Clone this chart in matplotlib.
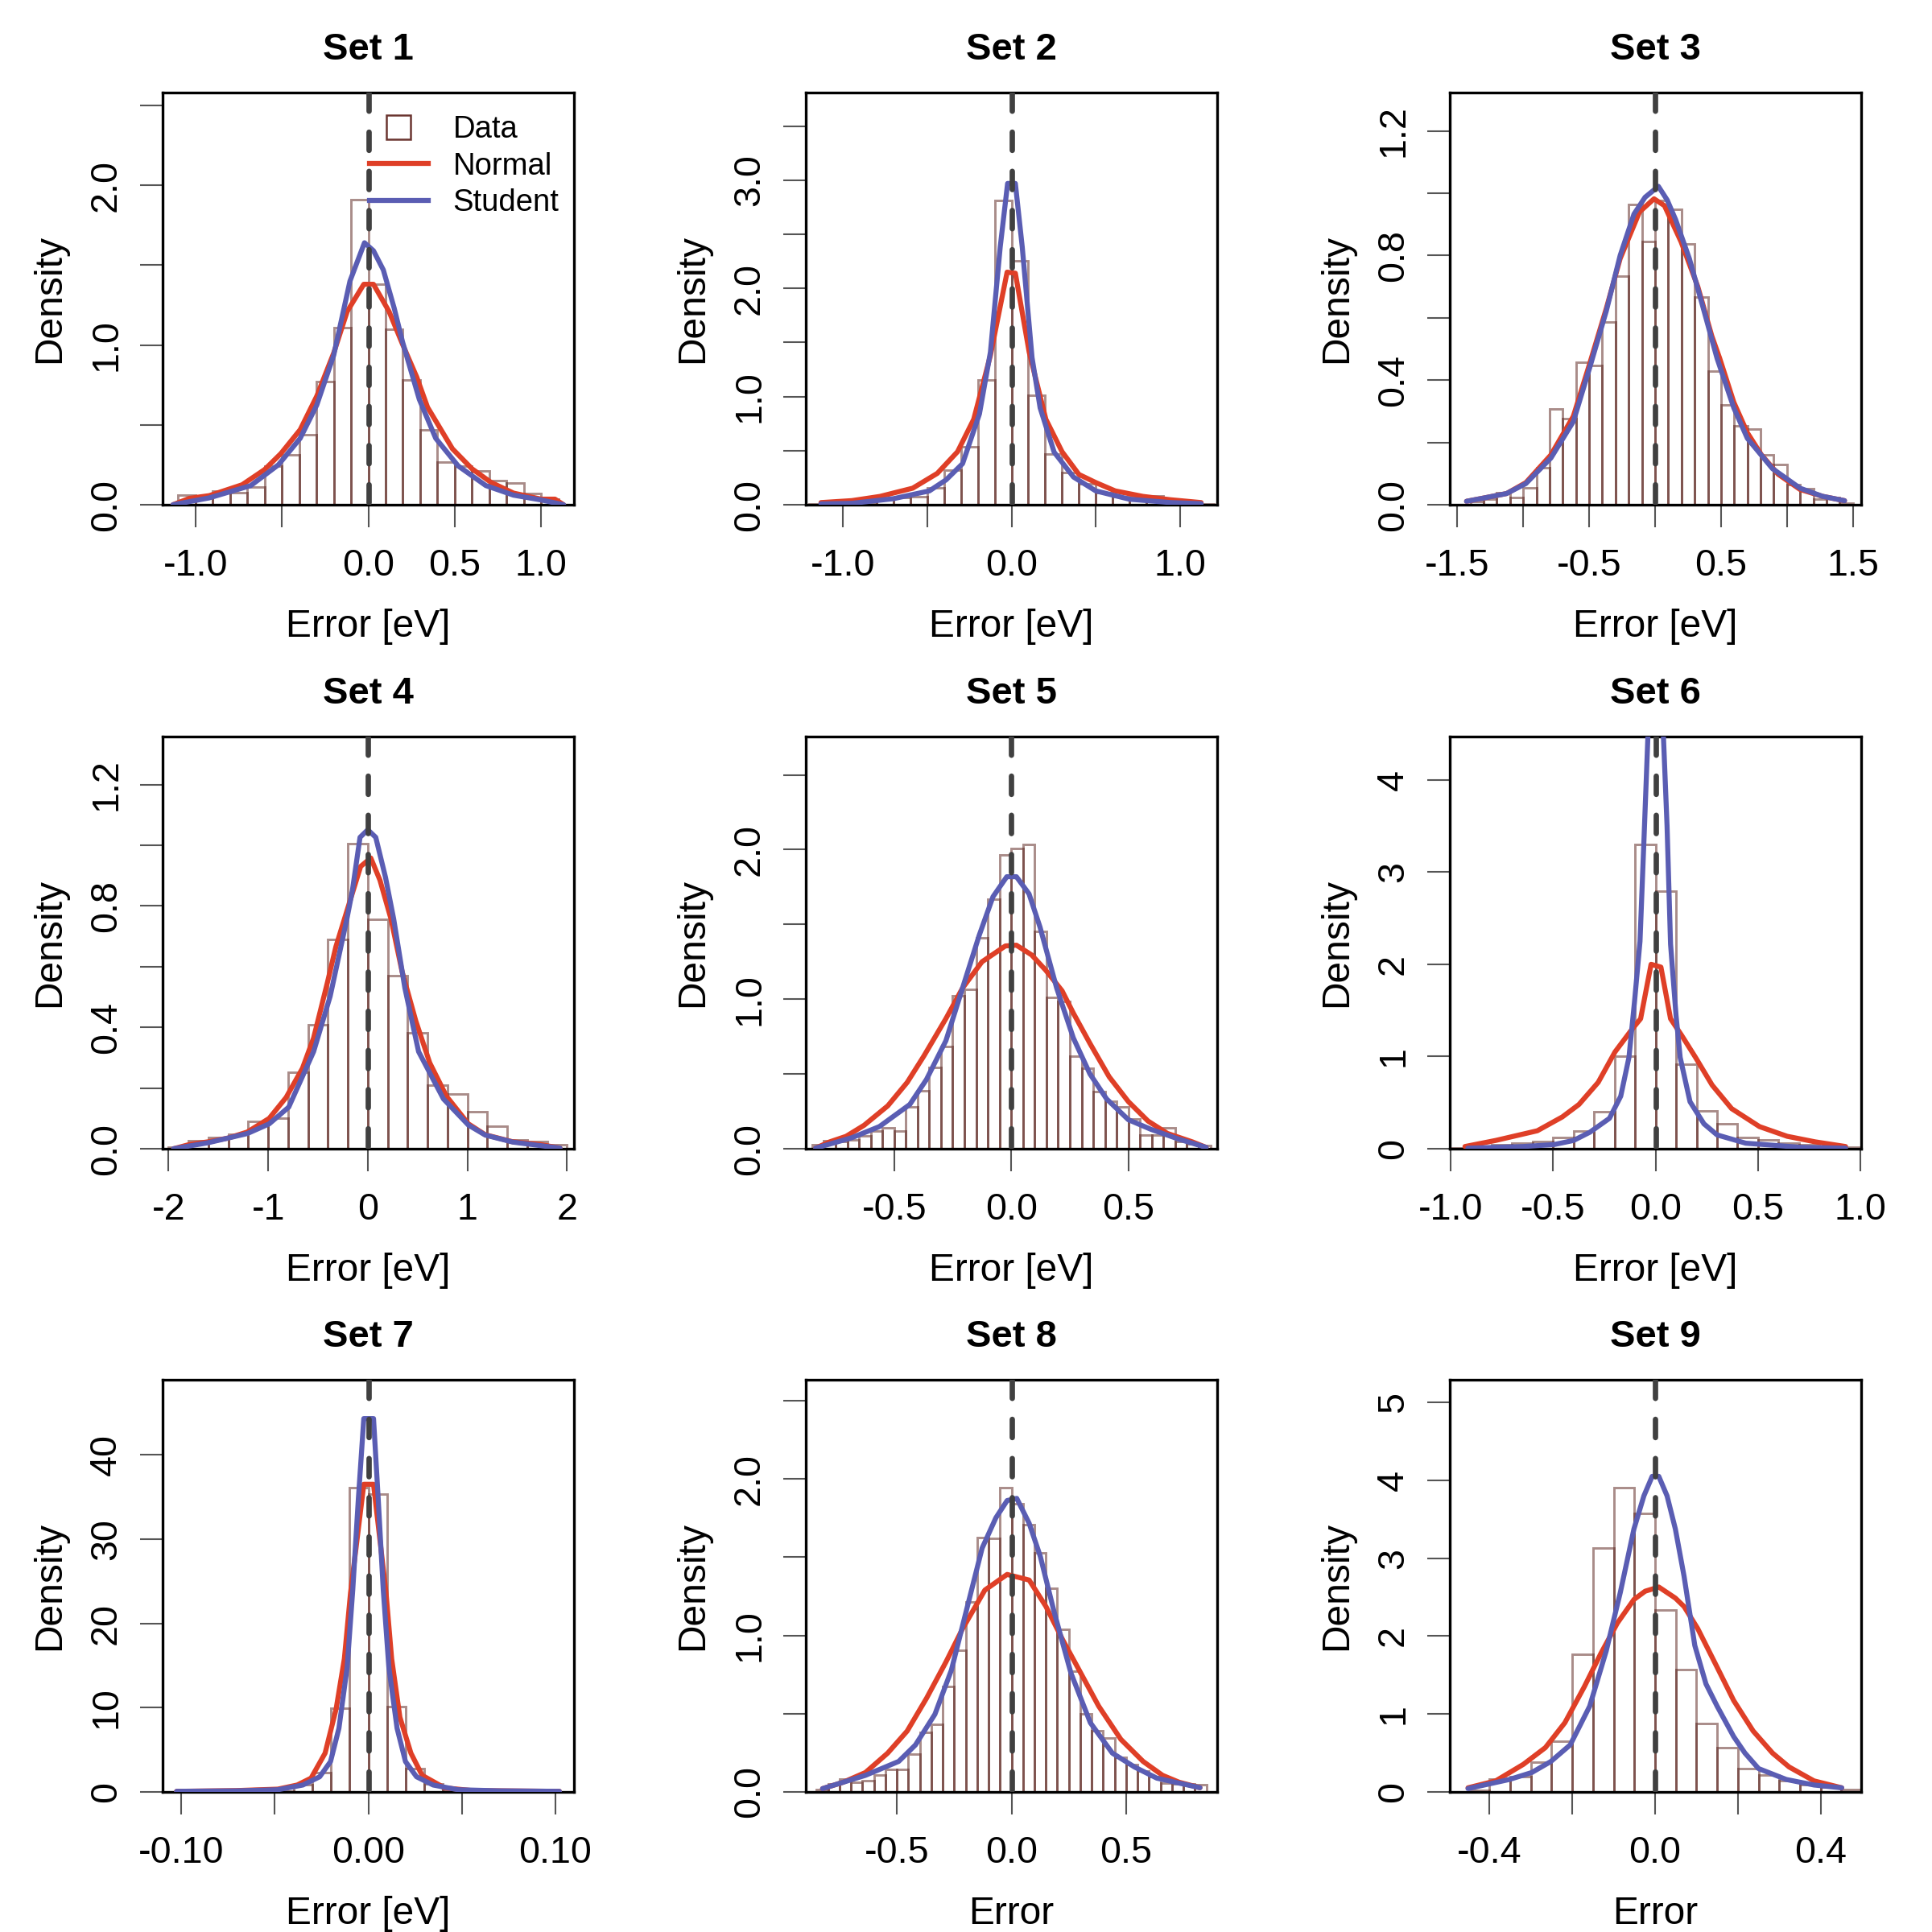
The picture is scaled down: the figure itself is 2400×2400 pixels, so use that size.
import matplotlib.pyplot as plt
from matplotlib.lines import Line2D

plt.rcParams['font.family'] = ['Liberation Sans', 'DejaVu Sans']

bar_edge = (0.33, 0.10, 0.08, 0.5)
normal_color = '#DF3F27'
student_color = '#5A5DB3'
vline_color = '#404040'

# ---- Set 1 ----
set1_bin_start, set1_bin_width = -1.1, 0.1
set1_hist = [0.06, 0.045, 0.087, 0.075, 0.11, 0.24, 0.31, 0.44, 0.77, 1.11, 1.91,
             1.38, 1.10, 0.78, 0.47, 0.265, 0.24, 0.21, 0.15, 0.135, 0.07, 0.035]
set1_normal_x = [-1.13, -1.035, -0.92, -0.73, -0.60, -0.506, -0.394, -0.298, -0.20, -0.122, -0.026,
                 0.03, 0.12, 0.198, 0.28, 0.343, 0.487, 0.60, 0.71, 0.84, 1.0, 1.08, 1.13]
set1_normal_y = [0.0, 0.04, 0.057, 0.125, 0.22, 0.32, 0.47, 0.68, 0.95, 1.21, 1.38,
                 1.38, 1.21, 1.005, 0.80, 0.61, 0.35, 0.225, 0.14, 0.073, 0.035, 0.035, 0.0]
set1_student_x = [-1.13, -0.92, -0.68, -0.52, -0.394, -0.298, -0.20, -0.106, -0.022, 0.03, 0.087,
                  0.15, 0.198, 0.295, 0.39, 0.52, 0.68, 0.84, 1.0, 1.13]
set1_student_y = [0.0, 0.043, 0.12, 0.25, 0.416, 0.624, 0.936, 1.40, 1.64, 1.59, 1.47,
                  1.23, 1.02, 0.66, 0.416, 0.243, 0.12, 0.06, 0.03, 0.0]

# ---- Set 2 ----
set2_bin_start, set2_bin_width = -1.2, 0.1
set2_hist = [0.01, 0.015, 0.02, 0.025, 0.05, 0.07, 0.077, 0.153, 0.32, 0.537, 1.156, 2.81,
             2.256, 1.01, 0.47, 0.30, 0.19, 0.115, 0.077, 0.064, 0.084, 0.04, 0.02, 0.01]
set2_normal_x = [-1.13, -0.947, -0.78, -0.586, -0.44, -0.32, -0.224, -0.125, -0.026, 0.023,
                 0.105, 0.204, 0.30, 0.40, 0.5, 0.615, 0.78, 0.944, 1.125]
set2_normal_y = [0.02, 0.038, 0.077, 0.153, 0.29, 0.49, 0.79, 1.38, 2.15, 2.14,
                 1.41, 0.79, 0.49, 0.28, 0.205, 0.128, 0.077, 0.046, 0.02]
set2_student_x = [-1.13, -0.947, -0.70, -0.487, -0.388, -0.29, -0.19, -0.125, -0.067, -0.023,
                  0.023, 0.064, 0.122, 0.17, 0.253, 0.368, 0.5, 0.70, 0.944, 1.125]
set2_student_y = [0.008, 0.013, 0.056, 0.128, 0.23, 0.38, 0.84, 1.41, 2.38, 2.97,
                  2.97, 2.38, 1.36, 0.895, 0.486, 0.256, 0.128, 0.051, 0.02, 0.01]

# ---- Set 3 ----
set3_bin_start, set3_bin_width = -1.4, 0.1
set3_hist = [0.01, 0.018, 0.038, 0.022, 0.055, 0.12, 0.308, 0.277, 0.458, 0.447, 0.587, 0.735, 0.964, 0.846,
             0.978, 0.949, 0.838, 0.667, 0.428, 0.32, 0.253, 0.244, 0.16, 0.129, 0.065, 0.051, 0.018, 0.022, 0.005]
set3_normal_x = [-1.43, -1.294, -1.126, -0.98, -0.79, -0.62, -0.496, -0.37, -0.265, -0.118, -0.008, 0.071,
                 0.197, 0.324, 0.43, 0.49, 0.597, 0.70, 0.807, 0.933, 1.10, 1.27, 1.437]
set3_normal_y = [0.011, 0.022, 0.036, 0.071, 0.16, 0.284, 0.453, 0.63, 0.79, 0.94, 0.982, 0.96,
                 0.844, 0.70, 0.542, 0.47, 0.329, 0.231, 0.16, 0.098, 0.049, 0.027, 0.013]
set3_student_x = [-1.43, -1.294, -1.126, -0.98, -0.79, -0.62, -0.496, -0.37, -0.265, -0.16, -0.076, 0.025,
                  0.092, 0.155, 0.26, 0.366, 0.47, 0.597, 0.70, 0.89, 1.10, 1.27, 1.437]
set3_student_y = [0.011, 0.022, 0.036, 0.068, 0.15, 0.267, 0.44, 0.622, 0.80, 0.933, 0.987, 1.022,
                  0.978, 0.916, 0.79, 0.63, 0.47, 0.311, 0.213, 0.116, 0.053, 0.027, 0.013]

# ---- Set 4 ----
set4_bin_start, set4_bin_width = -2.0, 0.2
set4_hist = [0.005, 0.027, 0.036, 0.047, 0.089, 0.102, 0.253, 0.409, 0.69, 1.004,
             0.757, 0.57, 0.383, 0.21, 0.18, 0.121, 0.073, 0.03, 0.023, 0.014]
set4_normal_x = [-1.95, -1.79, -1.6, -1.405, -1.21, -0.99, -0.82, -0.656, -0.544, -0.406, -0.32, -0.183, -0.072,
                 0.03, 0.122, 0.233, 0.344, 0.483, 0.622, 0.79, 1.01, 1.18, 1.455, 1.73, 1.93]
set4_normal_y = [0.0, 0.014, 0.023, 0.035, 0.055, 0.10, 0.169, 0.265, 0.365, 0.547, 0.666, 0.812, 0.93,
                 0.958, 0.885, 0.757, 0.584, 0.42, 0.283, 0.173, 0.082, 0.046, 0.023, 0.014, 0.002]
set4_student_x = [-1.95, -1.6, -1.21, -0.99, -0.794, -0.544, -0.378, -0.21, -0.155, -0.078, 0.0,
                  0.08, 0.178, 0.26, 0.372, 0.51, 0.76, 1.01, 1.18, 1.455, 1.93]
set4_student_y = [0.0, 0.02, 0.05, 0.082, 0.137, 0.32, 0.502, 0.757, 0.85, 1.026, 1.051,
                  1.026, 0.894, 0.757, 0.53, 0.32, 0.164, 0.078, 0.045, 0.022, 0.002]

# ---- Set 5 ----
set5_bin_start, set5_bin_width = -0.85, 0.05
set5_hist = [0.028, 0.052, 0.05, 0.06, 0.087, 0.12, 0.139, 0.12, 0.278, 0.389, 0.546, 0.685, 1.022, 1.065,
             1.41, 1.67, 1.967,
             2.009, 2.037, 1.454, 1.013, 0.985, 0.62, 0.537, 0.38, 0.32, 0.278, 0.2, 0.093, 0.093, 0.139,
             0.046, 0.033, 0.019]
set5_normal_x = [-0.835, -0.775, -0.705, -0.628, -0.527, -0.444, -0.373, -0.279, -0.208, -0.125, -0.025, 0.022,
                 0.087, 0.147, 0.217, 0.265, 0.336, 0.418, 0.50, 0.584, 0.667, 0.773, 0.832]
set5_normal_y = [0.004, 0.046, 0.083, 0.157, 0.287, 0.444, 0.62, 0.87, 1.074, 1.25, 1.356, 1.361,
                 1.296, 1.194, 1.056, 0.907, 0.704, 0.481, 0.315, 0.185, 0.102, 0.046, 0.009]
set5_student_x = [-0.835, -0.68, -0.563, -0.433, -0.362, -0.279, -0.208, -0.137, -0.078, -0.019, 0.022,
                  0.076, 0.123, 0.194, 0.265, 0.336, 0.407, 0.50, 0.596, 0.714, 0.832]
set5_student_y = [0.004, 0.074, 0.148, 0.296, 0.463, 0.722, 1.074, 1.426, 1.685, 1.819, 1.819,
                  1.704, 1.481, 1.074, 0.741, 0.50, 0.333, 0.194, 0.13, 0.065, 0.009]

# ---- Set 6 ----
set6_bin_start, set6_bin_width = -1.0, 0.1
set6_hist = [0.005, 0.03, 0.045, 0.06, 0.075, 0.12, 0.195, 0.405, 1.006, 3.30,
             2.79, 0.916, 0.414, 0.27, 0.126, 0.096, 0.06, 0.045, 0.03, 0.015]
set6_normal_x = [-0.93, -0.78, -0.577, -0.455, -0.374, -0.28, -0.198, -0.117, -0.073, -0.022,
                 0.026, 0.073, 0.127, 0.195, 0.276, 0.371, 0.507, 0.642, 0.778, 0.927]
set6_normal_y = [0.024, 0.09, 0.195, 0.345, 0.48, 0.72, 1.05, 1.29, 1.41, 2.0,
                 1.97, 1.41, 1.23, 0.99, 0.69, 0.435, 0.24, 0.135, 0.075, 0.024]
set6_student_x = [-0.916, -0.645, -0.496, -0.40, -0.32, -0.225, -0.17, -0.13, -0.103, -0.076, -0.056, -0.025,
                  0.025, 0.056, 0.073, 0.10, 0.12, 0.168, 0.236, 0.30, 0.44, 0.71, 0.927]
set6_student_y = [0.006, 0.024, 0.045, 0.09, 0.18, 0.33, 0.57, 0.99, 1.59, 2.25, 3.39, 5.2,
                  5.2, 3.5, 2.22, 1.44, 0.99, 0.51, 0.27, 0.15, 0.06, 0.015, 0.006]

# ---- Set 7 ----
set7_bin_start, set7_bin_width = -0.05, 0.01
set7_hist = [0.1, 0.82, 2.3, 9.9, 36.1, 35.3, 10.1, 2.8, 0.98, 0.16]
set7_normal_x = [-0.1025, -0.0706, -0.0484, -0.038, -0.0306, -0.0231, -0.0172, -0.0128, -0.0095, -0.0024,
                 0.0028, 0.0095, 0.0125, 0.0169, 0.0228, 0.0288, 0.0407, 0.0555, 0.1022]
set7_normal_y = [0.07, 0.16, 0.33, 0.82, 1.64, 4.6, 9.85, 15.8, 23.6, 36.5,
                 36.5, 23.6, 15.8, 8.87, 4.6, 1.97, 0.49, 0.16, 0.07]
set7_student_x = [-0.1025, -0.0706, -0.0484, -0.035, -0.026, -0.0202, -0.0157, -0.0113, -0.0083, -0.0053, -0.0024,
                  0.0028, 0.0053, 0.008, 0.011, 0.0154, 0.0199, 0.0258, 0.0347, 0.048, 0.0703, 0.1022]
set7_student_y = [0.07, 0.13, 0.26, 0.82, 1.8, 3.6, 7.55, 14.8, 24.0, 34.8, 44.3,
                  44.3, 34.8, 24.0, 14.8, 7.55, 3.6, 1.8, 0.82, 0.26, 0.13, 0.07]

# ---- Set 8 ----
set8_bin_start, set8_bin_width = -0.85, 0.05
set8_hist = [0.014, 0.053, 0.08, 0.062, 0.071, 0.106, 0.145, 0.142, 0.242, 0.38, 0.434, 0.673, 0.906, 1.212,
             1.625, 1.62, 1.947,
             1.844, 1.71, 1.53, 1.304, 1.039, 0.77, 0.5, 0.389, 0.345, 0.221, 0.177, 0.133, 0.097, 0.058,
             0.053, 0.053, 0.044]
set8_normal_x = [-0.824, -0.734, -0.637, -0.54, -0.455, -0.37, -0.286, -0.213, -0.116, -0.019,
                 0.077, 0.15, 0.223, 0.295, 0.38, 0.477, 0.574, 0.659, 0.731, 0.822]
set8_normal_y = [0.021, 0.062, 0.124, 0.248, 0.389, 0.60, 0.83, 1.044, 1.29, 1.39,
                 1.354, 1.186, 0.973, 0.779, 0.549, 0.336, 0.195, 0.106, 0.062, 0.027]
set8_student_x = [-0.824, -0.637, -0.492, -0.419, -0.334, -0.262, -0.189, -0.128, -0.068, -0.019,
                  0.023, 0.077, 0.126, 0.186, 0.259, 0.344, 0.44, 0.537, 0.634, 0.822]
set8_student_y = [0.021, 0.106, 0.195, 0.30, 0.496, 0.779, 1.204, 1.558, 1.752, 1.862,
                  1.876, 1.717, 1.504, 1.15, 0.761, 0.442, 0.248, 0.159, 0.088, 0.027]

# ---- Set 9 ----
set9_bin_start, set9_bin_width = -0.45, 0.05
set9_hist = [0.02, 0.167, 0.195, 0.38, 0.647, 1.77, 3.134, 3.91, 3.58,
             2.33, 1.574, 0.878, 0.569, 0.302, 0.213, 0.142, 0.089, 0.064, 0.028]
set9_normal_x = [-0.452, -0.385, -0.318, -0.265, -0.218, -0.171, -0.131, -0.091, -0.051, -0.024, 0.009,
                 0.049, 0.07, 0.103, 0.15, 0.19, 0.237, 0.284, 0.324, 0.384, 0.451]
set9_normal_y = [0.053, 0.142, 0.355, 0.569, 0.888, 1.35, 1.777, 2.168, 2.47, 2.576, 2.63,
                 2.488, 2.38, 2.097, 1.6, 1.173, 0.782, 0.498, 0.32, 0.142, 0.053]
set9_student_x = [-0.452, -0.352, -0.298, -0.252, -0.205, -0.158, -0.118, -0.084, -0.051, -0.027, -0.007,
                  0.009, 0.029, 0.049, 0.07, 0.096, 0.123, 0.15, 0.19, 0.217, 0.25, 0.317, 0.384, 0.451]
set9_student_y = [0.043, 0.16, 0.249, 0.39, 0.604, 1.10, 1.81, 2.56, 3.376, 3.80, 4.05,
                  4.05, 3.80, 3.376, 2.77, 1.88, 1.386, 1.10, 0.71, 0.50, 0.30, 0.16, 0.089, 0.053]

# axis ranges, ticks and labels per panel
titles = ['Set 1', 'Set 2', 'Set 3', 'Set 4', 'Set 5', 'Set 6', 'Set 7', 'Set 8', 'Set 9']
xlabels = ['Error [eV]'] * 7 + ['Error', 'Error']
xlims = [(-1.19, 1.19), (-1.22, 1.22), (-1.557, 1.563), (-2.06, 2.07), (-0.877, 0.879),
         (-1.004, 1.003), (-0.110, 0.110), (-0.897, 0.897), (-0.496, 0.498)]
ytops = [2.58, 3.81, 1.323, 1.358, 2.756, 4.47, 48.9, 2.634, 5.29]
xticks = [
    ([-1.0, -0.5, 0.0, 0.5, 1.0], ['-1.0', '', '0.0', '0.5', '1.0']),
    ([-1.0, -0.5, 0.0, 0.5, 1.0], ['-1.0', '', '0.0', '', '1.0']),
    ([-1.5, -1.0, -0.5, 0.0, 0.5, 1.0, 1.5], ['-1.5', '', '-0.5', '', '0.5', '', '1.5']),
    ([-2, -1, 0, 1, 2], ['-2', '-1', '0', '1', '2']),
    ([-0.5, 0.0, 0.5], ['-0.5', '0.0', '0.5']),
    ([-1.0, -0.5, 0.0, 0.5, 1.0], ['-1.0', '-0.5', '0.0', '0.5', '1.0']),
    ([-0.10, -0.05, 0.0, 0.05, 0.10], ['-0.10', '', '0.00', '', '0.10']),
    ([-0.5, 0.0, 0.5], ['-0.5', '0.0', '0.5']),
    ([-0.4, -0.2, 0.0, 0.2, 0.4], ['-0.4', '', '0.0', '', '0.4']),
]
yticks = [
    ([0, 0.5, 1.0, 1.5, 2.0, 2.5], ['0.0', '', '1.0', '', '2.0', '']),
    ([0, 0.5, 1.0, 1.5, 2.0, 2.5, 3.0, 3.5], ['0.0', '', '1.0', '', '2.0', '', '3.0', '']),
    ([0, 0.2, 0.4, 0.6, 0.8, 1.0, 1.2], ['0.0', '', '0.4', '', '0.8', '', '1.2']),
    ([0, 0.2, 0.4, 0.6, 0.8, 1.0, 1.2], ['0.0', '', '0.4', '', '0.8', '', '1.2']),
    ([0, 0.5, 1.0, 1.5, 2.0, 2.5], ['0.0', '', '1.0', '', '2.0', '']),
    ([0, 1, 2, 3, 4], ['0', '1', '2', '3', '4']),
    ([0, 10, 20, 30, 40], ['0', '10', '20', '30', '40']),
    ([0, 0.5, 1.0, 1.5, 2.0, 2.5], ['0.0', '', '1.0', '', '2.0', '']),
    ([0, 1, 2, 3, 4, 5], ['0', '1', '2', '3', '4', '5']),
]

panels = [
    (set1_bin_start, set1_bin_width, set1_hist, set1_normal_x, set1_normal_y, set1_student_x, set1_student_y),
    (set2_bin_start, set2_bin_width, set2_hist, set2_normal_x, set2_normal_y, set2_student_x, set2_student_y),
    (set3_bin_start, set3_bin_width, set3_hist, set3_normal_x, set3_normal_y, set3_student_x, set3_student_y),
    (set4_bin_start, set4_bin_width, set4_hist, set4_normal_x, set4_normal_y, set4_student_x, set4_student_y),
    (set5_bin_start, set5_bin_width, set5_hist, set5_normal_x, set5_normal_y, set5_student_x, set5_student_y),
    (set6_bin_start, set6_bin_width, set6_hist, set6_normal_x, set6_normal_y, set6_student_x, set6_student_y),
    (set7_bin_start, set7_bin_width, set7_hist, set7_normal_x, set7_normal_y, set7_student_x, set7_student_y),
    (set8_bin_start, set8_bin_width, set8_hist, set8_normal_x, set8_normal_y, set8_student_x, set8_student_y),
    (set9_bin_start, set9_bin_width, set9_hist, set9_normal_x, set9_normal_y, set9_student_x, set9_student_y),
]

W = 2400.0
col_left = [202, 1001, 1801]
row_top = [115, 915, 1714]
box_w, box_h = 511, 512

curve_lw = 1.5

fig = plt.figure(figsize=(8, 8), dpi=300)

for i, (b0, bw, hist, nx, ny, sx, sy) in enumerate(panels):
    r, c = divmod(i, 3)
    ax = fig.add_axes([col_left[c] / W, 1 - (row_top[r] + box_h) / W, box_w / W, box_h / W])

    lefts = [b0 + k * bw for k in range(len(hist))]
    ax.bar(lefts, hist, width=bw, align='edge', fill=False,
           edgecolor=bar_edge, linewidth=0.7, zorder=2)

    ax.plot(nx, ny, color=normal_color, lw=curve_lw, solid_joinstyle='round',
            solid_capstyle='round', zorder=3)
    ax.plot(sx, sy, color=student_color, lw=curve_lw, solid_joinstyle='round',
            solid_capstyle='round', zorder=3)

    ax.set_xlim(*xlims[i])
    ax.set_ylim(0, ytops[i])
    ax.plot([0, 0], [ytops[i], 0], color=vline_color, lw=1.6, dashes=(3.4, 3.9),
            dash_capstyle='round', zorder=4)

    ax.set_xticks(xticks[i][0])
    ax.set_xticklabels(xticks[i][1])
    ax.set_yticks(yticks[i][0])
    ax.set_yticklabels(yticks[i][1], rotation=90, va='center')
    ax.tick_params(axis='both', direction='out', length=6.7, width=0.5, color='#555555',
                   labelsize=11.2)
    ax.tick_params(axis='x', pad=6.3)
    ax.tick_params(axis='y', pad=4.8)
    for sp in ax.spines.values():
        sp.set_linewidth(0.8)
        sp.set_color('black')

    ax.set_title(titles[i], fontsize=11.3, fontweight='bold', pad=9.8)
    ax.set_xlabel(xlabels[i], fontsize=11.5, labelpad=7.5)
    ax.set_ylabel('Density', fontsize=11.5, labelpad=6.2)

    if i == 0:
        handles = [
            Line2D([], [], linestyle='none', marker='s', markersize=7.0,
                   markerfacecolor='white', markeredgecolor='#6a3530', markeredgewidth=0.6),
            Line2D([], [], color=normal_color, lw=curve_lw),
            Line2D([], [], color=student_color, lw=curve_lw),
        ]
        ax.legend(handles, ['Data', 'Normal', 'Student'], loc='upper left',
                  bbox_to_anchor=(0.503, 0.945), frameon=False, fontsize=9.2,
                  handlelength=1.9, handletextpad=0.8, labelspacing=0.25, borderpad=0,
                  borderaxespad=0)

fig.savefig('out.png', dpi=300)
